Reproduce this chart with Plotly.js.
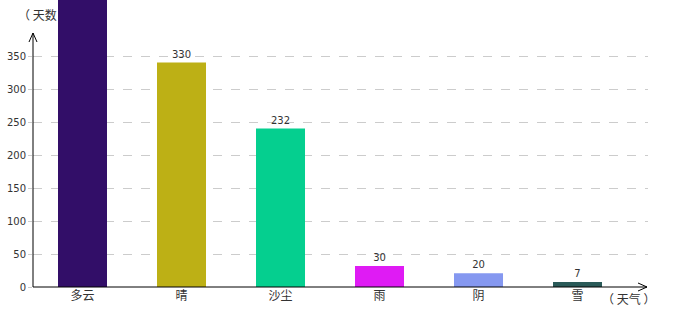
<!DOCTYPE html>
<html>
<head>
<meta charset="utf-8">
<script src="https://cdn.plot.ly/plotly-3.0.1.min.js"></script>
<style>html,body{margin:0;padding:0;background:#fff;}#chart{width:680px;height:320px;}</style>
</head>
<body>
<div id="chart"></div>
<script>
// Data
var categories = ["多云", "晴", "沙尘", "雨", "阴", "雪"];
var barHeights = [470, 340, 240, 32, 21, 7.5];
var valueLabels = ["", "330", "232", "30", "20", "7"];
var barColors = ["#320E68", "#BDB015", "#05CF8F", "#DF1BF4", "#8598F0", "#2A5A58"];
var yTickVals = [0, 50, 100, 150, 200, 250, 300, 350];
var yAxisName = "（ 天数";
var xAxisName = "（ 天气 ）";

var cjk = '"Noto Sans CJK SC"';
var num = '"DejaVu Sans", sans-serif';

var trace = {
  type: "bar",
  x: categories,
  y: barHeights,
  text: valueLabels,
  textposition: "outside",
  cliponaxis: true,
  textfont: {family: num, size: 10, color: "#333"},
  marker: {color: barColors, line: {width: 0}},
  hoverinfo: "none"
};

// plot area: x 33..648, y 0..287 (pixels)
var W = 615, H = 287;
function px(p){ return p / W; }
function py(p){ return p / H; }
var yTip = py(H - 33);
var xTip = px(647 - 33);

var layout = {
  width: 680, height: 320,
  margin: {l: 33, r: 32, t: 0, b: 33, pad: 0},
  paper_bgcolor: "#fff", plot_bgcolor: "#fff",
  showlegend: false,
  bargap: 0.505,
  xaxis: {
    type: "category",
    range: [-0.5, 5.712],
    showgrid: false, zeroline: false, showline: false,
    ticks: "", tickfont: {family: cjk, size: 12, color: "#333"},
    fixedrange: true
  },
  yaxis: {
    range: [0, 287 / 0.66],
    tickvals: yTickVals,
    ticktext: yTickVals.map(String),
    showgrid: true, gridcolor: "#CCCCCC", griddash: "dash", gridwidth: 1,
    zeroline: false, showline: false,
    ticks: "outside", ticklen: 4, tickcolor: "#CCCCCC",
    tickfont: {family: num, size: 10, color: "#333"},
    fixedrange: true
  },
  shapes: [
    {type: "line", xref: "paper", yref: "paper", x0: 0, y0: 0, x1: 0, y1: yTip, line: {color: "#000", width: 1}},
    {type: "path", xref: "paper", yref: "paper",
     path: "M " + (-px(4)) + " " + (yTip - py(9)) + " L 0 " + yTip + " L " + px(4) + " " + (yTip - py(9)),
     line: {color: "#000", width: 1}},
    {type: "line", xref: "paper", yref: "paper", x0: 0, y0: 0, x1: xTip, y1: 0, line: {color: "#000", width: 1}},
    {type: "path", xref: "paper", yref: "paper",
     path: "M " + (xTip - px(9)) + " " + py(4) + " L " + xTip + " 0 L " + (xTip - px(9)) + " " + (-py(4)),
     line: {color: "#000", width: 1}}
  ],
  annotations: [
    {text: yAxisName, xref: "paper", yref: "paper", x: px(37 - 33), y: py(H - 14),
     xanchor: "center", yanchor: "middle", showarrow: false,
     font: {family: cjk, size: 12, color: "#333"}},
    {text: xAxisName, xref: "paper", yref: "paper", x: px(628 - 33), y: -py(11),
     xanchor: "center", yanchor: "middle", showarrow: false,
     font: {family: cjk, size: 12, color: "#333"}}
  ]
};

Plotly.newPlot("chart", [trace], layout, {displayModeBar: false, staticPlot: true});
</script>
</body>
</html>
